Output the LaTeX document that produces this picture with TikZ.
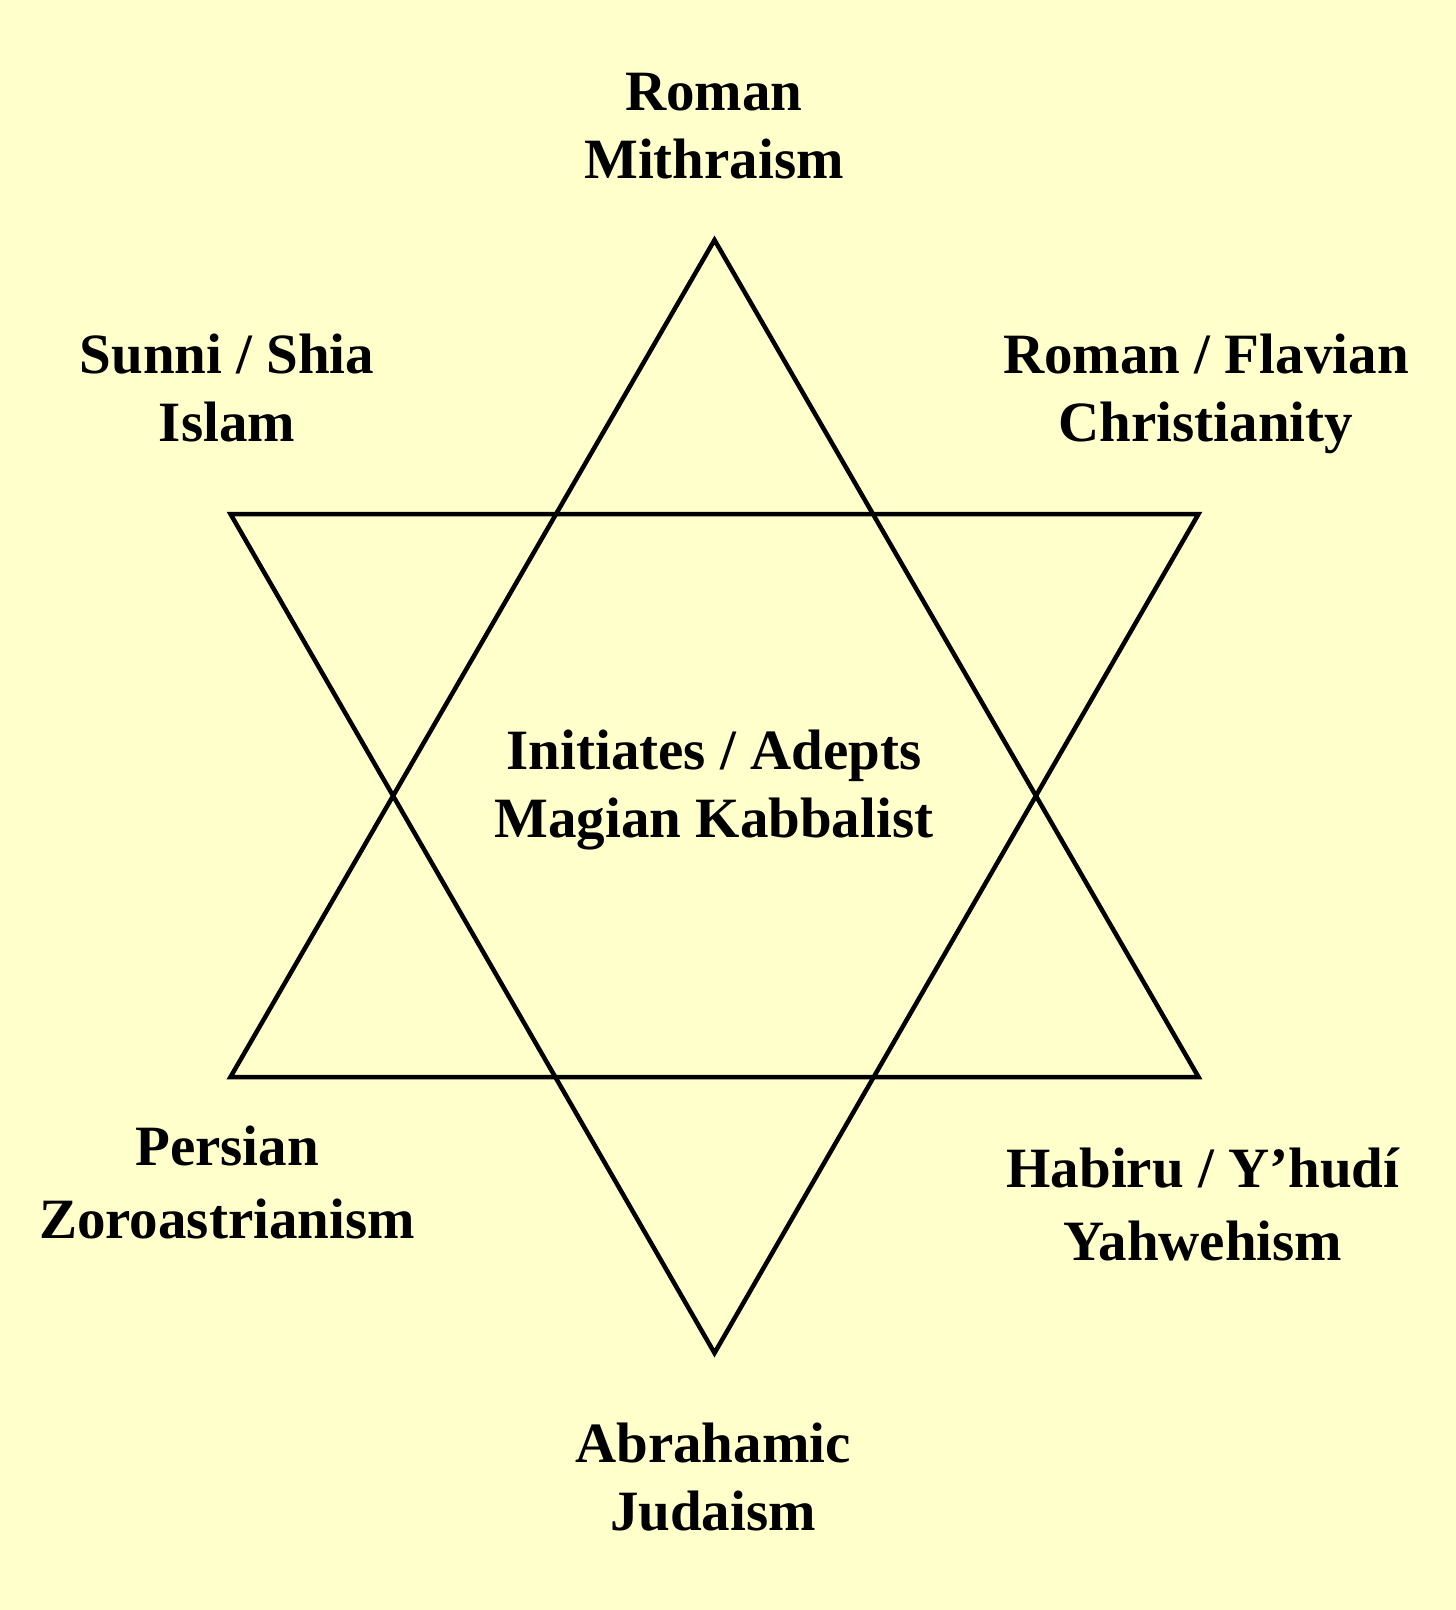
\documentclass[tikz,border=0pt]{standalone}
\usepackage{fontspec}
\setmainfont{Liberation Serif}

\begin{document}
\begin{tikzpicture}[x=1pt, y=-1pt,
    lbl/.style={anchor=base, align=center, inner sep=0pt, font=\bfseries\fontsize{57}{68}\selectfont},
    star/.style={draw=black, line width=4.5pt}]
  \definecolor{paper}{HTML}{FFFFCC}
  \fill[paper] (0,0) rectangle (1456,1610);
  % star corners
  \coordinate (up-top) at (714.5,240);
  \coordinate (up-left) at (230.5,1077);
  \coordinate (up-right) at (1198.5,1077);
  \coordinate (dn-bot) at (714.5,1353);
  \coordinate (dn-left) at (230.5,514);
  \coordinate (dn-right) at (1198.5,514);
  \draw[star] (up-top) -- (up-right) -- (up-left) -- cycle;
  \draw[star] (dn-bot) -- (dn-right) -- (dn-left) -- cycle;
  % labels (anchored on the last line)
  \node[lbl] (mithra) at (714,178) {Roman\\Mithraism};
  \node[lbl] (islam) at (227,441) {Sunni / Shia\\Islam};
  \node[lbl] (christ) at (1206,441) {Roman / Flavian\\Christianity};
  \node[lbl] (adepts) at (714,837) {Initiates / Adepts\\Magian Kabbalist};
  \node[lbl] (zoro) at (227,1238) {Persian\\[5pt]Zoroastrianism};
  \node[lbl] (yahweh) at (1203,1260) {Habiru / Y’hudí\\[5pt]Yahwehism};
  \node[lbl] (judaism) at (713,1530) {Abrahamic\\Judaism};
\end{tikzpicture}
\end{document}
